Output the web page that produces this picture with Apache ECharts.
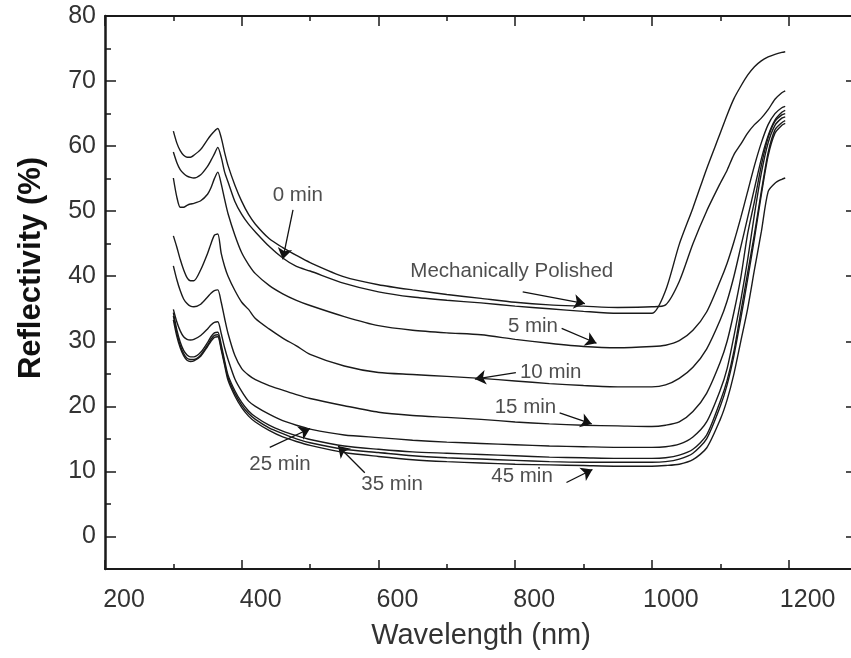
<!DOCTYPE html>
<html>
<head>
<meta charset="utf-8">
<script src="https://cdn.jsdelivr.net/npm/echarts@6/dist/echarts.min.js"></script>
<style>
  html, body { margin: 0; padding: 0; background: #fff; }
  #chart { width: 851px; height: 658px; }
</style>
</head>
<body>
<div id="chart"></div>
<script>
// Wavelength grid (nm) shared by every reflectivity curve
const wavelength = [300,305,310,315,320,325,330,340,350,355,360,365,370,375,380,390,400,410,420,440,460,480,500,550,600,650,700,750,800,850,900,950,1000,1020,1040,1060,1080,1100,1110,1120,1130,1140,1150,1160,1170,1180,1190,1195];

// Reflectivity (%) per etching time
const mechPolished = [62.3,60.5,59.3,58.6,58.3,58.3,58.6,59.5,61.0,61.7,62.3,62.7,61.3,59.0,57.0,54.0,51.5,49.5,48.0,45.8,44.4,43.2,42.1,39.9,38.7,37.9,37.2,36.6,36.0,35.6,35.4,35.2,35.3,35.6,39.2,45.0,50.0,54.3,56.3,58.7,60.3,62.0,63.3,64.3,65.6,67.2,68.2,68.5];
const etch0 = [59.1,57.5,56.4,55.8,55.4,55.2,55.1,55.6,56.9,57.8,58.8,59.8,58.3,56.0,54.5,51.5,49.5,48.0,46.8,44.6,42.8,41.5,40.8,38.9,37.6,36.8,36.3,35.9,35.4,35.0,34.6,34.3,34.3,37.8,44.9,50.5,56.5,62.0,64.8,67.3,69.2,70.9,72.2,73.1,73.7,74.1,74.4,74.5];
const etch5 = [55.1,52.2,50.6,50.6,50.9,51.1,51.2,51.6,52.6,53.6,55.0,56.0,54.2,51.8,49.6,46.3,43.6,41.8,40.4,38.6,37.3,36.3,35.5,33.8,32.4,31.7,31.3,31.0,30.3,29.7,29.2,29.0,29.2,29.4,30.1,31.7,34.5,39.3,42.0,45.3,49.0,53.0,57.0,60.5,63.3,65.0,65.9,66.1];
const etch10 = [46.2,44.5,42.6,41.0,39.8,39.3,39.3,41.0,43.5,45.0,46.3,46.5,43.5,41.5,40.0,37.8,36.0,34.9,33.5,31.9,30.5,29.3,28.0,26.2,25.2,24.9,24.6,24.3,23.9,23.5,23.2,23.0,23.0,23.3,24.3,26.0,28.8,33.3,36.2,40.0,44.5,49.0,53.5,58.0,61.6,64.0,65.2,65.5];
const etch15 = [41.6,39.5,37.8,36.5,35.8,35.4,35.3,35.7,36.8,37.4,37.8,37.9,36.0,33.5,31.2,27.8,25.8,24.8,24.1,23.2,22.5,21.8,21.2,20.1,19.1,18.6,18.3,18.0,17.6,17.3,17.1,17.0,16.9,17.1,17.6,19.2,22.0,26.8,30.0,34.5,39.8,46.5,51.5,57.0,61.3,63.8,64.8,65.0];
const etch25 = [34.9,33.0,31.6,30.7,30.3,30.2,30.3,30.9,31.9,32.5,32.9,33.0,31.2,29.0,27.2,24.2,22.3,20.8,20.0,18.8,17.8,17.1,16.5,15.6,15.2,14.8,14.5,14.3,14.1,13.9,13.8,13.7,13.7,13.8,14.2,15.3,17.6,22.5,25.8,30.8,36.3,42.5,49.5,55.8,60.5,63.2,64.3,64.5];
const etch35 = [34.4,31.8,29.9,28.6,27.9,27.6,27.6,28.3,29.8,30.7,31.3,31.4,29.5,27.0,24.8,22.4,20.6,19.3,18.4,17.1,16.2,15.5,14.9,13.9,13.4,13.0,12.8,12.6,12.4,12.2,12.1,12.0,12.0,12.1,12.5,13.4,15.6,20.8,24.0,28.5,34.5,40.5,46.5,53.0,59.0,62.5,63.6,63.9];
const etchUnlabelled = [33.9,31.3,29.4,28.1,27.4,27.2,27.2,27.9,29.4,30.3,30.9,31.0,29.0,26.6,24.4,22.0,20.2,18.9,18.0,16.7,15.8,15.0,14.4,13.4,12.9,12.4,12.1,11.9,11.7,11.5,11.4,11.4,11.4,11.5,11.9,12.8,15.0,20.0,23.3,27.8,33.5,39.5,45.8,52.5,58.5,62.0,63.2,63.5];
const etch45 = [33.3,30.8,29.0,27.8,27.1,26.9,27.0,27.7,29.2,30.0,30.6,30.7,28.7,26.3,24.0,21.6,19.8,18.5,17.6,16.3,15.3,14.6,14.0,12.9,12.3,11.8,11.5,11.3,11.1,11.0,10.9,10.8,10.8,10.9,11.1,11.8,13.6,18.0,21.0,25.0,30.0,35.0,41.0,46.8,53.0,54.3,54.9,55.1];

const curves = [
  { name: 'Mechanically Polished', values: mechPolished },
  { name: '0 min', values: etch0 },
  { name: '5 min', values: etch5 },
  { name: '10 min', values: etch10 },
  { name: '15 min', values: etch15 },
  { name: '25 min', values: etch25 },
  { name: '35 min', values: etch35 },
  { name: '', values: etchUnlabelled },
  { name: '45 min', values: etch45 }
];

// Axis ticks
const xMajorTicks = [200, 400, 600, 800, 1000, 1200];
const xMinorTicks = [300, 500, 700, 900, 1100];
const yMajorTicks = [0, 10, 20, 30, 40, 50, 60, 70, 80];
const yMinorTicks = [5, 15, 25, 35, 45, 55, 65, 75];

// Curve annotations: label text, label anchor, arrow tail and arrow tip (data units)
const noteText = ['0 min', 'Mechanically Polished', '5 min', '10 min', '15 min', '25 min', '35 min', '45 min'];
const notePos  = [[482, 52.4], [795, 40.7], [826, 32.3], [852, 25.2], [815, 19.8], [456, 11.1], [620, 8.0], [810, 9.2]];
const arrowFrom = [[475, 50.2], [811, 37.6], [868, 32.0], [801, 25.2], [865, 19.0], [441, 13.7], [580, 9.8], [875, 8.3]];
const arrowTo   = [[460, 42.6], [902, 35.8], [919, 29.7], [741, 24.2], [912, 17.3], [500, 16.6], [541, 13.9], [913, 10.3]];

const FONT = 'Liberation Sans, Arial, Helvetica, sans-serif';
const INK = '#1a1a1a';

function plain(v) { return String(v); }

function xAxisDef(position, ticks, len, withLine, withLabels) {
  return {
    type: 'value', position: position, min: 200, max: 1300, interval: 100,
    splitLine: { show: false },
    axisLine: { show: withLine, onZero: false, lineStyle: { color: INK, width: 2 } },
    axisTick: { show: true, inside: true, length: len, customValues: ticks, lineStyle: { color: INK, width: 1.5 } },
    axisLabel: withLabels ? {
      show: true, customValues: xMajorTicks, formatter: plain, margin: 19, fontSize: 25,
      fontFamily: FONT, color: '#333', padding: [0, 0, 0, 38]
    } : { show: false }
  };
}
function yAxisDef(position, ticks, len, withLine, withLabels) {
  return {
    type: 'value', position: position, min: -5, max: 80, interval: 5,
    splitLine: { show: false },
    axisLine: { show: withLine, onZero: false, lineStyle: { color: INK, width: position === 'left' ? 2.5 : 2 } },
    axisTick: { show: true, inside: true, length: len, customValues: ticks, lineStyle: { color: INK, width: 1.5 } },
    axisLabel: withLabels ? {
      show: true, customValues: yMajorTicks, formatter: plain, margin: 9, fontSize: 25,
      fontFamily: FONT, color: '#333'
    } : { show: false }
  };
}

const xAxes = [
  Object.assign(xAxisDef('bottom', xMajorTicks, 9, true, true), {
    name: 'Wavelength (nm)', nameLocation: 'middle', nameGap: 52,
    nameTextStyle: { fontSize: 29, fontFamily: FONT, color: '#333' }
  }),
  xAxisDef('bottom', xMinorTicks, 5, false, false),
  xAxisDef('top', xMajorTicks, 10, true, false),
  xAxisDef('top', xMinorTicks, 5, false, false)
];
const yAxes = [
  yAxisDef('left', yMajorTicks, 11, true, true),
  yAxisDef('left', yMinorTicks, 6, false, false),
  yAxisDef('right', yMajorTicks, 11, true, false),
  yAxisDef('right', yMinorTicks, 6, false, false)
];

const lineSeries = curves.map(function (c) {
  return {
    type: 'line', name: c.name, xAxisIndex: 0, yAxisIndex: 0,
    data: wavelength.map(function (w, i) { return [w, c.values[i]]; }),
    showSymbol: false, smooth: 0.25, silent: true,
    lineStyle: { color: INK, width: 1.4 }
  };
});

const noteSeries = {
  type: 'scatter', xAxisIndex: 0, yAxisIndex: 0, silent: true,
  symbolSize: 1, itemStyle: { color: 'rgba(0,0,0,0)' },
  data: noteText.map(function (t, i) { return { name: t, value: notePos[i] }; }),
  label: { show: true, position: 'inside', formatter: '{b}', fontSize: 20.5, fontFamily: FONT, color: '#222' }
};

const arrowSeries = {
  type: 'lines', coordinateSystem: 'cartesian2d', xAxisIndex: 0, yAxisIndex: 0, silent: true,
  symbol: ['none', 'arrow'], symbolSize: 11,
  lineStyle: { color: '#111', width: 1.3, opacity: 1, curveness: 0 },
  data: arrowFrom.map(function (p, i) { return { coords: [p, arrowTo[i]] }; })
};

const chart = echarts.init(document.getElementById('chart'), null, { renderer: 'canvas' });
chart.setOption({
  animation: false,
  backgroundColor: '#fff',
  grid: { left: 105, right: -6, top: 16, bottom: 89, containLabel: false, outerBoundsMode: 'none' },
  xAxis: xAxes,
  yAxis: yAxes,
  graphic: [{
    type: 'text', x: 31, y: 268, rotation: Math.PI / 2,
    style: { text: 'Reflectivity (%)', font: 'bold 31px ' + FONT, fill: '#111', align: 'center', verticalAlign: 'middle' }
  }],
  series: lineSeries.concat([noteSeries, arrowSeries])
});
</script>
</body>
</html>
